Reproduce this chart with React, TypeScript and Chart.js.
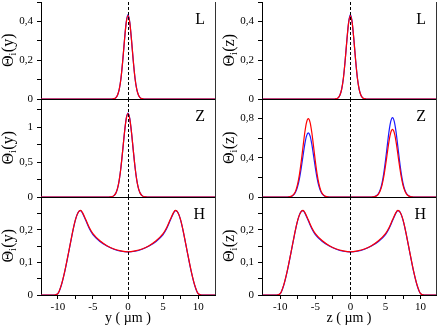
import React, { useEffect, useRef } from "react";
import { Chart, registerables } from "chart.js";

Chart.register(...registerables);

// ---------------- data ----------------
// L panels (single central peak)
const L_X = [-12.5, -2.25, -2, -1.75, -1.5, -1.25, -1, -0.75, -0.5, -0.25, 0, 0.25, 0.5, 0.75, 1, 1.25, 1.5, 1.75, 2, 2.25, 12.5];
const L_BLUE = [0, 0, 0.002, 0.006, 0.019, 0.049, 0.107, 0.197, 0.304, 0.396, 0.435, 0.396, 0.304, 0.197, 0.107, 0.049, 0.019, 0.006, 0.002, 0, 0];
const L_RED = [0, 0, 0.002, 0.006, 0.019, 0.049, 0.107, 0.197, 0.304, 0.394, 0.430, 0.394, 0.304, 0.197, 0.107, 0.049, 0.019, 0.006, 0.002, 0, 0];

// Z panel, y direction (single tall peak)
const ZY_X = [-12.5, -2.75, -2.5, -2.25, -2, -1.75, -1.5, -1.25, -1, -0.75, -0.5, -0.25, 0, 0.25, 0.5, 0.75, 1, 1.25, 1.5, 1.75, 2, 2.25, 2.5, 2.75, 12.5];
const ZY_BLUE = [0, 0, 0.002, 0.007, 0.020, 0.052, 0.120, 0.242, 0.429, 0.670, 0.922, 1.122, 1.2, 1.122, 0.922, 0.670, 0.429, 0.242, 0.120, 0.052, 0.020, 0.007, 0.002, 0, 0];
const ZY_RED = [0, 0, 0.002, 0.007, 0.020, 0.052, 0.120, 0.242, 0.429, 0.670, 0.922, 1.116, 1.19, 1.116, 0.922, 0.670, 0.429, 0.242, 0.120, 0.052, 0.020, 0.007, 0.002, 0, 0];

// Z panel, z direction (two side peaks)
const ZZ_X = [
  -12.5,
  -9, -8.75, -8.5, -8.25, -8, -7.75, -7.5, -7.25, -7, -6.75, -6.5, -6.25, -6, -5.75, -5.5, -5.25, -5, -4.75, -4.5, -4.25, -4, -3.75, -3.5, -3.25, -3,
  0,
  3, 3.25, 3.5, 3.75, 4, 4.25, 4.5, 4.75, 5, 5.25, 5.5, 5.75, 6, 6.25, 6.5, 6.75, 7, 7.25, 7.5, 7.75, 8, 8.25, 8.5, 8.75, 9,
  12.5,
];
const ZZ_BLUE = [
  0,
  0, 0.002, 0.005, 0.013, 0.029, 0.060, 0.113, 0.193, 0.300, 0.422, 0.539, 0.624, 0.655, 0.624, 0.539, 0.422, 0.300, 0.193, 0.113, 0.060, 0.029, 0.013, 0.005, 0.002, 0,
  0,
  0, 0.002, 0.006, 0.016, 0.036, 0.074, 0.139, 0.239, 0.371, 0.522, 0.667, 0.771, 0.81, 0.771, 0.667, 0.522, 0.371, 0.239, 0.139, 0.074, 0.036, 0.016, 0.006, 0.002, 0,
  0,
];
const ZZ_RED = [
  0,
  0, 0.002, 0.006, 0.015, 0.035, 0.073, 0.138, 0.236, 0.366, 0.515, 0.658, 0.762, 0.80, 0.762, 0.658, 0.515, 0.366, 0.236, 0.138, 0.073, 0.035, 0.015, 0.006, 0.002, 0,
  0,
  0, 0.002, 0.005, 0.013, 0.030, 0.063, 0.119, 0.204, 0.316, 0.444, 0.568, 0.657, 0.69, 0.657, 0.568, 0.444, 0.316, 0.204, 0.119, 0.063, 0.030, 0.013, 0.005, 0.002, 0,
  0,
];

// H panels (double hump)
const H_X = [
  -12.5, -10.5, -10, -9.5, -9, -8.5, -8, -7.75, -7.5, -7.25, -7, -6.75, -6.5, -6, -5.5, -5, -4, -3, -2, -1,
  0,
  1, 2, 3, 4, 5, 5.5, 6, 6.5, 6.75, 7, 7.25, 7.5, 7.75, 8, 8.5, 9, 9.5, 10, 10.5, 12.5,
];
const H_BLUE = [
  0, 0, 0.004, 0.030, 0.073, 0.126, 0.181, 0.207, 0.229, 0.246, 0.256, 0.258, 0.251, 0.227, 0.203, 0.185, 0.164, 0.150, 0.140, 0.134,
  0.132,
  0.134, 0.140, 0.150, 0.164, 0.185, 0.203, 0.227, 0.251, 0.258, 0.256, 0.246, 0.229, 0.207, 0.181, 0.126, 0.073, 0.030, 0.004, 0, 0,
];
const H_RED = [
  0, 0, 0.004, 0.031, 0.074, 0.127, 0.182, 0.208, 0.230, 0.246, 0.256, 0.259, 0.253, 0.230, 0.206, 0.188, 0.166, 0.151, 0.141, 0.135,
  0.132,
  0.135, 0.141, 0.151, 0.166, 0.188, 0.206, 0.230, 0.253, 0.259, 0.256, 0.246, 0.230, 0.208, 0.182, 0.127, 0.074, 0.031, 0.004, 0, 0,
];

// ticks
const X_TICKS = [-10, -7.5, -5, -2.5, 0, 2.5, 5, 7.5, 10];
const X_LABELS = [-10, -5, 0, 5, 10];
const Y_TICKS_L = [0, 0.1, 0.2, 0.3, 0.4, 0.5];
const Y_LABELS_L = [0, 0.2, 0.4];
const Y_TICKS_ZY = [0, 0.25, 0.5, 0.75, 1, 1.25];
const Y_LABELS_ZY = [0, 0.5, 1];
const Y_TICKS_ZZ = [0, 0.2, 0.4, 0.6, 0.8, 1.0];
const Y_LABELS_ZZ = [0, 0.4, 0.8];
const Y_TICKS_H = [0, 0.05, 0.1, 0.15, 0.2, 0.25, 0.3];
const Y_LABELS_H = [0, 0.1, 0.2];

// ---------------- layout ----------------
const SERIF = '"Liberation Serif", "Times New Roman", serif';
const BLUE = "#1a1aff";
const RED = "#ff0000";
const CW = 220;
const CH = 329;
const YW = 30;

type Spec = {
  col: number;
  top: number;
  bottom: number;
  xs: number[];
  blue: number[];
  red: number[];
  yMax: number;
  yTicks: number[];
  yLabels: number[];
  letter: string;
  v: string;
  xTitle?: string;
};

const COLS = [
  { areaLeft: 41, areaRight: 215, xMin: -12.4, xMax: 12.4 },
  { areaLeft: 42, areaRight: 216, xMin: -12.6, xMax: 12.2 },
];
const ROWS = [
  { top: 2, bottom: 99 },
  { top: 99, bottom: 197 },
  { top: 197, bottom: 295 },
];

const PANELS: Spec[] = [
  { col: 0, ...ROWS[0], xs: L_X, blue: L_BLUE, red: L_RED, yMax: 0.5, yTicks: Y_TICKS_L, yLabels: Y_LABELS_L, letter: "L", v: "y" },
  { col: 1, ...ROWS[0], xs: L_X, blue: L_BLUE, red: L_RED, yMax: 0.5, yTicks: Y_TICKS_L, yLabels: Y_LABELS_L, letter: "L", v: "z" },
  { col: 0, ...ROWS[1], xs: ZY_X, blue: ZY_BLUE, red: ZY_RED, yMax: 1.4, yTicks: Y_TICKS_ZY, yLabels: Y_LABELS_ZY, letter: "Z", v: "y" },
  { col: 1, ...ROWS[1], xs: ZZ_X, blue: ZZ_BLUE, red: ZZ_RED, yMax: 1.0, yTicks: Y_TICKS_ZZ, yLabels: Y_LABELS_ZZ, letter: "Z", v: "z" },
  { col: 0, ...ROWS[2], xs: H_X, blue: H_BLUE, red: H_RED, yMax: 0.3, yTicks: Y_TICKS_H, yLabels: Y_LABELS_H, letter: "H", v: "y", xTitle: "y ( \u00b5m )" },
  { col: 1, ...ROWS[2], xs: H_X, blue: H_BLUE, red: H_RED, yMax: 0.3, yTicks: Y_TICKS_H, yLabels: Y_LABELS_H, letter: "H", v: "z", xTitle: "z ( \u00b5m )" },
];

const fmt = (v: number) => String(v).replace(".", ",");
const has = (arr: number[], v: number) => arr.some((a) => Math.abs(a - v) < 1e-9);

const decoPlugin = {
  id: "panelDeco",
  afterDatasetsDraw(chart: any, _args: any, opts: any) {
    const { ctx, chartArea, scales } = chart;
    const { left, right, top, bottom } = chartArea;
    ctx.save();
    // dashed zero line
    const x0 = Math.round(scales.x.getPixelForValue(0)) + 0.5;
    ctx.strokeStyle = "#000";
    ctx.lineWidth = 1;
    ctx.setLineDash([3, 2]);
    ctx.beginPath();
    ctx.moveTo(x0, top);
    ctx.lineTo(x0, bottom);
    ctx.stroke();
    ctx.setLineDash([]);
    // right frame line
    ctx.strokeStyle = "#333";
    ctx.beginPath();
    ctx.moveTo(Math.round(right) + 0.5, top);
    ctx.lineTo(Math.round(right) + 0.5, bottom);
    ctx.stroke();
    // panel letter
    ctx.fillStyle = "#000";
    ctx.font = `16px ${SERIF}`;
    ctx.textAlign = "right";
    ctx.textBaseline = "alphabetic";
    ctx.fillText(opts.letter, right - 10, top + 22);
    // y axis title  Θi(v)
    const cx = left - 33;
    const cy = (top + bottom) / 2;
    ctx.translate(cx, cy);
    ctx.rotate(-Math.PI / 2);
    ctx.textAlign = "left";
    const big = `16px ${SERIF}`;
    const small = `10px ${SERIF}`;
    ctx.font = big;
    const w1 = ctx.measureText("\u0398").width;
    const t3 = "(" + opts.v + ")";
    const w3 = ctx.measureText(t3).width;
    ctx.font = small;
    const w2 = ctx.measureText("i").width;
    let x = -(w1 + w2 + w3) / 2;
    ctx.font = big;
    ctx.fillText("\u0398", x, 5);
    x += w1;
    ctx.font = small;
    ctx.fillText("i", x, 8);
    x += w2 + 0.5;
    ctx.font = big;
    ctx.fillText(t3, x, 5);
    ctx.restore();
  },
};

function Panel({ spec }: { spec: Spec }) {
  const ref = useRef<HTMLCanvasElement>(null);
  useEffect(() => {
    const canvas = ref.current!;
    const c = COLS[spec.col];
    const xh = spec.xTitle ? 34 : 0;
    const tickFont = { family: SERIF, size: 11 };
    const chart = new Chart(canvas, {
      type: "line",
      data: {
        datasets: [
          {
            data: spec.xs.map((x, i) => ({ x, y: spec.red[i] })),
            borderColor: RED,
            borderWidth: 1.2,
            pointRadius: 0,
            fill: false,
            cubicInterpolationMode: "monotone",
          },
          {
            data: spec.xs.map((x, i) => ({ x, y: spec.blue[i] })),
            borderColor: BLUE,
            borderWidth: 1.2,
            pointRadius: 0,
            fill: false,
            cubicInterpolationMode: "monotone",
          },
        ],
      },
      options: {
        animation: false,
        responsive: false,
        devicePixelRatio: 1,
        events: [],
        layout: {
          padding: {
            left: c.areaLeft - YW,
            right: CW - c.areaRight,
            top: spec.top,
            bottom: CH - spec.bottom - xh,
          },
        },
        plugins: {
          legend: { display: false },
          tooltip: { enabled: false },
          panelDeco: { letter: spec.letter, v: spec.v },
        } as any,
        scales: {
          x: {
            type: "linear",
            min: c.xMin,
            max: c.xMax,
            afterBuildTicks: (s: any) => {
              s.ticks = X_TICKS.map((v) => ({ value: v }));
            },
            afterFit: (s: any) => {
              s.height = xh;
              s.paddingLeft = 0;
              s.paddingRight = 0;
              s.paddingTop = 0;
              s.paddingBottom = 0;
            },
            ticks: {
              display: !!spec.xTitle,
              autoSkip: false,
              maxRotation: 0,
              padding: 2,
              color: "#000",
              font: tickFont,
              callback: (v: any) => (has(X_LABELS, Number(v)) ? String(v) : ""),
            },
            grid: {
              display: true,
              drawOnChartArea: false,
              drawTicks: !!spec.xTitle,
              tickLength: 4,
              color: "#000",
            },
            border: { display: true, color: "#000", width: 1 },
            title: {
              display: !!spec.xTitle,
              text: spec.xTitle || "",
              color: "#000",
              font: { family: SERIF, size: 14 },
              padding: { top: 0, bottom: 2 },
            },
          },
          y: {
            type: "linear",
            min: 0,
            max: spec.yMax,
            afterBuildTicks: (s: any) => {
              s.ticks = spec.yTicks.map((v) => ({ value: v }));
            },
            afterFit: (s: any) => {
              s.width = YW;
              s.paddingLeft = 0;
              s.paddingRight = 0;
              s.paddingTop = 0;
              s.paddingBottom = 0;
            },
            ticks: {
              autoSkip: false,
              padding: 4,
              color: "#000",
              font: tickFont,
              callback: (v: any) => (has(spec.yLabels, Number(v)) ? fmt(Number(v)) : ""),
            },
            grid: {
              display: true,
              drawOnChartArea: false,
              drawTicks: true,
              tickLength: 4,
              color: "#000",
            },
            border: { display: true, color: "#000", width: 1 },
          },
        },
      } as any,
      plugins: [decoPlugin],
    });
    return () => chart.destroy();
  }, []);
  return (
    <canvas
      ref={ref}
      width={CW}
      height={CH}
      style={{ position: "absolute", left: spec.col * CW, top: 0, width: CW, height: CH }}
    />
  );
}

export default function App() {
  return (
    <div style={{ position: "fixed", left: 0, top: 0, width: 440, height: 329, background: "#fff" }}>
      {PANELS.map((p, i) => (
        <Panel key={i} spec={p} />
      ))}
    </div>
  );
}
